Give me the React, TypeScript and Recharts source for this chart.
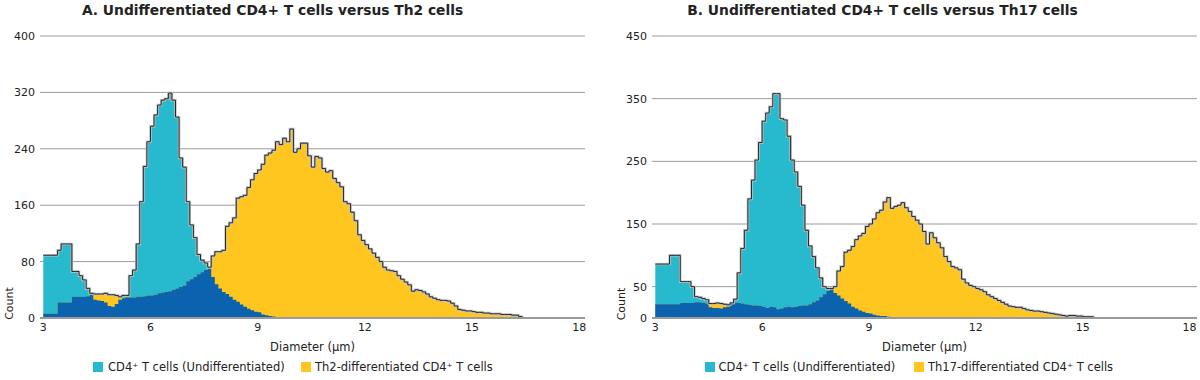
import React from 'react';
import { ComposedChart, Area, Line, XAxis, YAxis, CartesianGrid } from 'recharts';

// Histogram bins: diameter (µm) of each bin's left edge, 0.1 µm wide, from 3.0 µm
const BIN_START = 3.0;
const BIN_WIDTH = 0.1;

// Panel A — counts per bin (3.0 … 16.4 µm)
const UNDIFF_A = [
  89, 89, 89, 89, 96, 105, 105, 105, 66, 66,
  60, 54, 42, 35, 26, 25, 24, 22, 17, 16,
  20, 26, 32, 32, 60, 68, 105, 165, 215, 250,
  272, 288, 302, 309, 311, 319, 309, 285, 227, 214,
  165, 132, 114, 90, 82, 78, 70, 58, 48, 42,
  37, 34, 30, 26, 23, 19, 16, 13, 11, 9,
  8, 5, 4, 3, 2, 0, 0, 0, 0, 0,
  0, 0, 0, 0, 0, 0, 0, 0, 0, 0,
  0, 0, 0, 0, 0, 0, 0, 0, 0, 0,
  0, 0, 0, 0, 0, 0, 0, 0, 0, 0,
  0, 0, 0, 0, 0, 0, 0, 0, 0, 0,
  0, 0, 0, 0, 0, 0, 0, 0, 0, 0,
  0, 0, 0, 0, 0, 0, 0, 0, 0, 0,
  0, 0, 0, 0, 0,
];
const TH2_A = [
  6, 6, 6, 6, 22, 22, 22, 22, 30, 30,
  30, 30, 31, 33, 34, 34, 34, 35, 33, 33,
  32, 30, 28, 29, 29, 29, 30, 30, 31, 32,
  32, 33, 35, 36, 37, 38, 40, 42, 44, 46,
  52, 55, 58, 62, 65, 68, 72, 88, 94, 94,
  96, 130, 135, 142, 170, 172, 174, 185, 196, 205,
  210, 218, 231, 234, 238, 250, 246, 255, 250, 268,
  235, 240, 248, 248, 230, 214, 229, 227, 212, 207,
  209, 198, 192, 186, 165, 162, 150, 138, 118, 110,
  104, 98, 92, 86, 80, 72, 68, 67, 66, 60,
  55, 51, 47, 38, 40, 39, 37, 34, 30, 28,
  26, 25, 25, 24, 21, 17, 12, 11, 10, 10,
  9, 8, 8, 7, 7, 6, 6, 6, 5, 5,
  5, 4, 4, 2, 0,
];

// Panel B — counts per bin (3.0 … 16.4 µm)
const UNDIFF_B = [
  86, 86, 86, 86, 100, 100, 100, 58, 58, 58,
  50, 34, 33, 31, 29, 17, 16, 16, 15, 17,
  18, 24, 30, 72, 111, 140, 190, 220, 252, 280,
  314, 327, 337, 358, 358, 318, 316, 290, 252, 233,
  210, 180, 140, 115, 98, 80, 64, 50, 47, 46,
  40, 36, 31, 27, 23, 18, 15, 12, 10, 8,
  7, 5, 4, 3, 3, 2, 1, 0, 0, 0,
  0, 0, 0, 0, 0, 0, 0, 0, 0, 0,
  0, 0, 0, 0, 0, 0, 0, 0, 0, 0,
  0, 0, 0, 0, 0, 0, 0, 0, 0, 0,
  0, 0, 0, 0, 0, 0, 0, 0, 0, 0,
  0, 0, 0, 0, 0, 0, 0, 0, 0, 0,
  0, 0, 0, 0, 0, 0, 0, 0, 0, 0,
  0, 0, 0, 0, 0,
];
const TH17_B = [
  22, 22, 22, 22, 22, 22, 22, 24, 24, 24,
  24, 25, 25, 24, 23, 23, 23, 24, 23, 22,
  21, 22, 24, 24, 23, 22, 21, 20, 20, 19,
  18, 16, 18, 17, 14, 15, 17, 18, 17, 18,
  19, 20, 20, 22, 25, 28, 33, 38, 43, 47,
  50, 75, 82, 105, 108, 114, 125, 131, 135, 146,
  150, 158, 168, 172, 185, 192, 175, 178, 180, 184,
  176, 170, 162, 156, 150, 138, 118, 136, 128, 120,
  112, 98, 90, 82, 80, 77, 62, 56, 52, 50,
  47, 45, 42, 37, 34, 31, 28, 25, 22, 19,
  18, 17, 17, 15, 13, 12, 11, 11, 10, 9,
  8, 7, 6, 5, 4, 3, 4, 4, 3, 3,
  2, 2, 2, 0, 0, 0, 0, 0, 0, 0,
  0, 0, 0, 0, 0,
];

const X_TICKS = [3, 6, 9, 12, 15, 18];
const Y_TICKS_A = [0, 80, 160, 240, 320, 400];
const Y_TICKS_B = [0, 50, 150, 250, 350, 450];

const TITLE_A = 'A. Undifferentiated CD4+ T cells versus Th2 cells';
const TITLE_B = 'B. Undifferentiated CD4+ T cells versus Th17 cells';
const X_LABEL = 'Diameter (µm)';
const Y_LABEL = 'Count';
const LEGEND_UNDIFF = 'CD4⁺ T cells (Undifferentiated)';
const LEGEND_TH2 = 'Th2-differentiated CD4⁺ T cells';
const LEGEND_TH17 = 'Th17-differentiated CD4⁺ T cells';

const CYAN = '#27B9CE';
const YELLOW = '#FFC61F';
const DARK_BLUE = '#0B62AE';
const GRID = '#9a9a9a';
const TEXT = '#222';
const FONT = '"DejaVu Sans", Verdana, sans-serif';

type Row = { x: number; undiff: number; diff: number; overlap: number; outline: number | null };

function buildRows(undiff: number[], diff: number[]): Row[] {
  return undiff.map((u, i) => {
    const d = diff[i];
    const env = Math.max(u, d);
    const prevEnv = i > 0 ? Math.max(undiff[i - 1], diff[i - 1]) : 1;
    return {
      x: Math.round((BIN_START + i * BIN_WIDTH) * 10) / 10,
      undiff: u,
      diff: d,
      overlap: Math.min(u, d),
      outline: env === 0 && prevEnv === 0 ? null : env,
    };
  });
}

const ROWS_A = buildRows(UNDIFF_A, TH2_A);
const ROWS_B = buildRows(UNDIFF_B, TH17_B);

type PanelProps = {
  rows: Row[];
  yTicks: number[];
  yMax: number;
  yAxisWidth: number;
  marginRight: number;
  xDomain: [number, number];
};

function Panel({ rows, yTicks, yMax, yAxisWidth, marginRight, xDomain }: PanelProps) {
  const tickStyle = { fontSize: 11, fill: TEXT, fontFamily: FONT };
  return (
    <ComposedChart
      width={600}
      height={380}
      data={rows}
      margin={{ top: 36, right: marginRight, bottom: 0, left: 0 }}
    >
      <CartesianGrid horizontal vertical={false} stroke={GRID} strokeWidth={1} />
      <XAxis
        dataKey="x"
        type="number"
        domain={xDomain}
        ticks={X_TICKS}
        interval={0}
        allowDataOverflow
        tickLine={false}
        tickSize={5}
        tickMargin={0}
        height={62}
        axisLine={{ stroke: GRID, strokeWidth: 2 }}
        tick={tickStyle}
        label={{ value: X_LABEL, position: 'insideBottom', offset: 29, fontSize: 11.5, fill: TEXT, fontFamily: FONT }}
      />
      <YAxis
        type="number"
        domain={[0, yMax]}
        ticks={yTicks}
        interval={0}
        allowDataOverflow
        width={yAxisWidth}
        axisLine={false}
        tickLine={false}
        tickSize={5}
        tickMargin={0}
        tick={tickStyle}
      />
      <Area type="stepAfter" dataKey="undiff" fill={CYAN} fillOpacity={1} stroke="none" isAnimationActive={false} />
      <Area type="stepAfter" dataKey="diff" fill={YELLOW} fillOpacity={1} stroke="none" isAnimationActive={false} />
      <Area type="stepAfter" dataKey="overlap" fill={DARK_BLUE} fillOpacity={1} stroke="none" isAnimationActive={false} />
      <Line type="stepAfter" dataKey="outline" stroke="#c4c4c4" strokeWidth={2.5} dot={false} activeDot={false} isAnimationActive={false} />
      <Line type="stepAfter" dataKey="outline" stroke="#262626" strokeWidth={1} dot={false} activeDot={false} isAnimationActive={false} />
    </ComposedChart>
  );
}

export default function App() {
  return (
    <div
      style={{
        position: 'absolute',
        left: 0,
        top: 0,
        width: 1200,
        height: 380,
        background: '#fff',
        fontFamily: FONT,
        overflow: 'hidden',
      }}
    >
      <div style={{ position: 'absolute', left: 0, top: 0 }}>
        <Panel rows={ROWS_A} yTicks={Y_TICKS_A} yMax={400} yAxisWidth={40} marginRight={15} xDomain={[2.908, 18.16]} />
      </div>
      <div style={{ position: 'absolute', left: 600, top: 0 }}>
        <Panel rows={ROWS_B} yTicks={Y_TICKS_B} yMax={450} yAxisWidth={52} marginRight={3} xDomain={[2.907, 18.21]} />
      </div>
      <svg
        width={1200}
        height={380}
        style={{ position: 'absolute', left: 0, top: 0, pointerEvents: 'none' }}
        fontFamily={FONT}
      >
        <text x={272.5} y={14.5} textAnchor="middle" fontSize={13.8} fontWeight="bold" fill={TEXT}>{TITLE_A}</text>
        <text x={882.5} y={14.5} textAnchor="middle" fontSize={13.8} fontWeight="bold" fill={TEXT}>{TITLE_B}</text>
        <text transform="translate(13,303.5) rotate(-90)" textAnchor="middle" fontSize={11} fill={TEXT}>{Y_LABEL}</text>
        <text transform="translate(625,304) rotate(-90)" textAnchor="middle" fontSize={11} fill={TEXT}>{Y_LABEL}</text>
        <rect x={93} y={362} width={10} height={10} fill={CYAN} />
        <text x={108} y={371} fontSize={11.5} fill={TEXT}>{LEGEND_UNDIFF}</text>
        <rect x={301} y={362} width={10} height={10} fill={YELLOW} />
        <text x={315} y={371} fontSize={11.5} fill={TEXT}>{LEGEND_TH2}</text>
        <rect x={705} y={362} width={10} height={10} fill={CYAN} />
        <text x={718.5} y={371} fontSize={11.5} fill={TEXT}>{LEGEND_UNDIFF}</text>
        <rect x={914} y={362} width={10} height={10} fill={YELLOW} />
        <text x={928} y={371} fontSize={11.5} fill={TEXT}>{LEGEND_TH17}</text>
      </svg>
    </div>
  );
}
